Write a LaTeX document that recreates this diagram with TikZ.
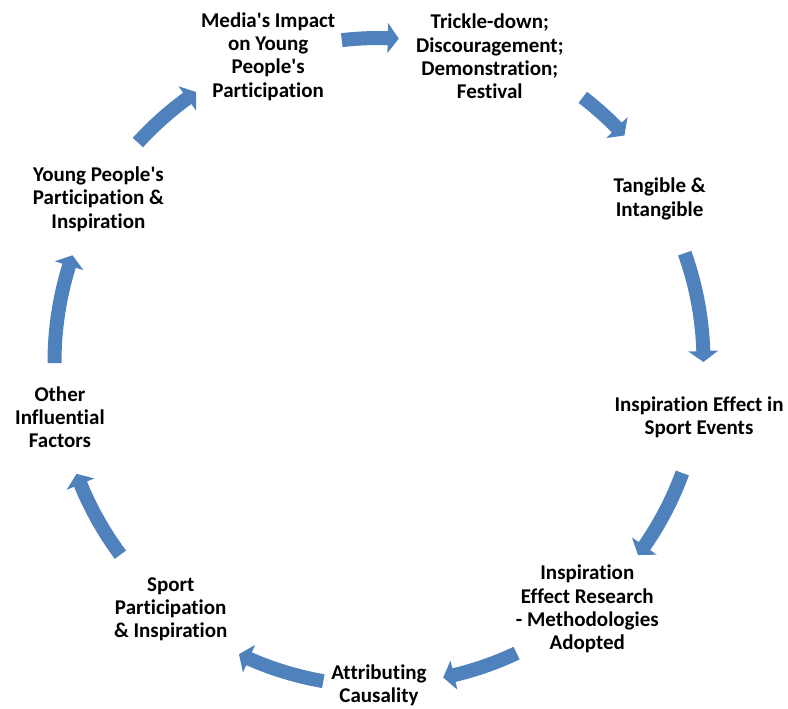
\documentclass[tikz,border=0pt]{standalone}
\usepackage{fontspec}
\setmainfont{Carlito}[Ligatures={TeXOff,NoCommon}]
\definecolor{arrowblue}{RGB}{79,129,189}
\tikzset{
  lbl/.style={font=\bfseries\fontsize{21}{23.3}\selectfont, align=center, inner sep=0pt, text=black},
  arrowfill/.style={fill=arrowblue}
}
% tail angle, tip angle, radius (pt)
\newcommand\cycarrow[3]{%
  \pgfmathsetmacro\cb{#2+11/#3*57.2958*((#1>#2)*2-1)}%
  \pgfmathsetlengthmacro\ro{#3+7}%
  \pgfmathsetlengthmacro\ri{#3-7}%
  \pgfmathsetlengthmacro\hro{#3+15}%
  \pgfmathsetlengthmacro\hri{#3-15}%
  \fill[arrowfill] (#1:\ro) arc[start angle=#1, end angle=\cb, radius=\ro]
    -- (\cb:\hro) -- (#2:#3pt) -- (\cb:\hri) -- (\cb:\ri)
    arc[start angle=\cb, end angle=#1, radius=\ri] -- cycle;
}
\begin{document}
\begin{tikzpicture}[x=1pt,y=1pt]
\useasboundingbox (0,0) rectangle (788,709);
\begin{scope}[shift={(379,347)}]
  \cycarrow{96.6}{86.5}{324}
  \cycarrow{52.4}{42.7}{334}
  \cycarrow{19.6}{0}{324.5}
  \cycarrow{-20.1}{-36.7}{323}
  \cycarrow{-64.7}{-78.5}{322}
  \cycarrow{-99.9}{-115.6}{324}
  \cycarrow{-143.3}{-159.7}{322.5}
  \cycarrow{-179.8}{-199.2}{324.5}
  \cycarrow{-222.3}{-235.9}{326}
\end{scope}
\node[lbl] (n1) at (268.2,652.5) {Media's Impact\\on Young\\People's\\Participation};
\node[lbl] (n2) at (489.8,652.5) {Trickle-down;\\Discouragement;\\Demonstration;\\Festival};
\node[lbl] (n3) at (659.6,510) {Tangible \&\\Intangible};
\node[lbl] (n4) at (699,291.7) {Inspiration Effect in\\Sport Events};
\node[lbl] (n5) at (587.3,99.8) {Inspiration\\Effect Research\\- Methodologies\\Adopted};
\node[lbl] (n6) at (379,24) {Attributing\\Causality};
\node[lbl] (n7) at (170.7,99.8) {Sport\\Participation\\\& Inspiration};
\node[lbl] (n8) at (59.9,291.7) {Other\\Influential\\Factors};
\node[lbl] (n9) at (98.4,510) {Young People's\\Participation \&\\Inspiration};
\end{tikzpicture}
\end{document}
